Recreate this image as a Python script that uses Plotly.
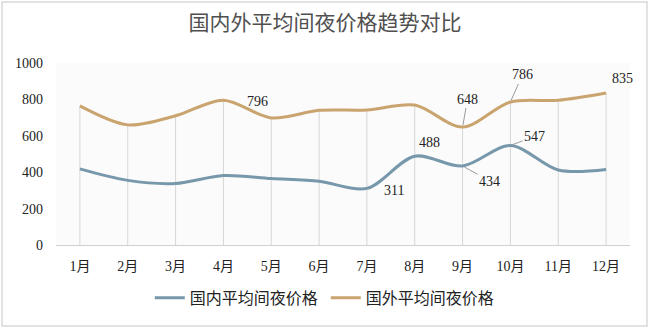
import plotly.graph_objects as go

months = ["1月", "2月", "3月", "4月", "5月", "6月", "7月", "8月", "9月", "10月", "11月", "12月"]
domestic = [418, 355, 338, 382, 365, 350, 311, 488, 434, 547, 412, 415]
foreign = [764, 660, 710, 796, 698, 740, 742, 769, 648, 786, 795, 835]
y_ticks = [0, 200, 400, 600, 800, 1000]
name_dom = "国内平均间夜价格"
name_for = "国外平均间夜价格"
title = "国内外平均间夜价格趋势对比"

c_dom = "#7797ab"
c_for = "#c9a46e"
cjk = "Noto Sans CJK SC"
numfont = "Liberation Serif"

fig = go.Figure()

# drop lines from the higher series down to the axis
fig.add_trace(go.Scatter(
    x=months, y=foreign, mode="markers", marker=dict(size=0.1, opacity=0),
    error_y=dict(type="data", symmetric=False, array=[0] * len(foreign),
                 arrayminus=foreign, width=0, thickness=1, color="#d6d6d6"),
    showlegend=False, hoverinfo="skip"))

fig.add_trace(go.Scatter(x=months, y=domestic, name=name_dom, mode="lines",
                         line=dict(color=c_dom, width=3, shape="spline", smoothing=0.9)))
fig.add_trace(go.Scatter(x=months, y=foreign, name=name_for, mode="lines",
                         line=dict(color=c_for, width=3, shape="spline", smoothing=0.9)))

# data labels (index, series, dx, dy (screen px, down positive), leader line?)
labels = [
    (3, foreign, 34, 1, False),
    (8, foreign, 5, -28, True),
    (9, foreign, 12, -27, True),
    (11, foreign, 16, -15, False),
    (7, domestic, 15, -14, False),
    (6, domestic, 27, 2, False),
    (8, domestic, 27, 15, True),
    (9, domestic, 24, -9, True),
]
for i, ser, dx, dy, arrow in labels:
    if arrow:
        fig.add_annotation(x=months[i], y=ser[i], text=str(ser[i]), showarrow=True,
                           arrowhead=0, arrowwidth=1, arrowcolor="#9a9a9a",
                           ax=dx, ay=dy, standoff=2,
                           font=dict(family=numfont, size=14, color="#222"))
    else:
        fig.add_annotation(x=months[i], y=ser[i], text=str(ser[i]), showarrow=False,
                           xshift=dx, yshift=-dy,
                           font=dict(family=numfont, size=14, color="#222"))

# chart border
fig.add_shape(type="rect", xref="paper", yref="paper", x0=-0.094, x1=1.0296, y0=-0.445, y1=1.335,
              line=dict(color="#d9d9d9", width=1.5), fillcolor="rgba(0,0,0,0)", layer="below")

fig.update_layout(
    width=650, height=328,
    margin=dict(l=56, r=20, t=63, b=83, autoexpand=False),
    paper_bgcolor="white", plot_bgcolor="#fbfbfb",
    title=dict(text=title, x=0.5, xanchor="center", y=0.93, yanchor="middle",
               font=dict(family=cjk, size=21, color="#505050")),
    xaxis=dict(showgrid=False, showline=True, linecolor="#cfcfcf", linewidth=1,
               ticks="", ticklabelstandoff=8,
               tickfont=dict(family=numfont + ", " + cjk, size=14, color="#222"),
               range=[-0.5, 11.5], fixedrange=True),
    yaxis=dict(range=[0, 1000], tickvals=y_ticks, showgrid=False, zeroline=False,
               showline=False, ticks="", ticklabelstandoff=12,
               tickfont=dict(family=numfont, size=14, color="#222")),
    legend=dict(orientation="h", x=0.47, xanchor="center", y=-0.29, yanchor="middle",
                font=dict(family=cjk, size=16, color="#222"),
                entrywidth=131, entrywidthmode="pixels", tracegroupgap=0),
)

fig.write_html("out.html")
